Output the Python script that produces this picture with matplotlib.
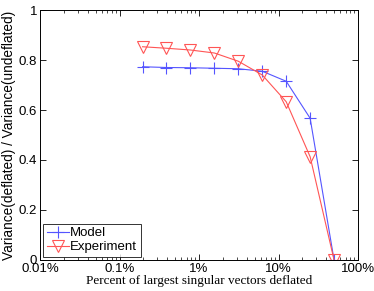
import matplotlib
matplotlib.use('Agg')
import matplotlib.pyplot as plt
import numpy as np

plt.rcParams['font.family'] = ['Liberation Sans', 'DejaVu Sans']

# percent of largest singular vectors deflated
pct = [0.195, 0.39, 0.78, 1.5625, 3.125, 6.25, 12.5, 25, 50]
model = [0.773, 0.770, 0.769, 0.767, 0.765, 0.755, 0.715, 0.567, 0.0]
experiment = [0.853, 0.847, 0.840, 0.828, 0.795, 0.740, 0.633, 0.413, 0.0]

fig = plt.figure(figsize=(3.74, 2.91), dpi=100)
ax = fig.add_axes([40/374, 31/291, 318/374, 250/291])

ax.plot(pct, model, color='#5555ff', lw=0.8, marker='+', ms=8, mew=0.8, label='Model')
ax.plot(pct, experiment, color='#ff5555', lw=0.8, marker='v', ms=8, mew=0.8,
        mfc='none', label='Experiment')

ax.set_xscale('log')
ax.set_xlim(0.01, 100)
ax.set_ylim(0, 1)
ax.set_xticks([0.01, 0.1, 1, 10, 100])
ax.set_xticklabels(['0.01%', '0.1%', '1%', '10%', '100%'])
ax.set_yticks([0, 0.2, 0.4, 0.6, 0.8, 1])
ax.set_yticklabels(['0', '0.2', '0.4', '0.6', '0.8', '1'])
ax.tick_params(which='both', direction='in', top=True, right=True, labelsize=9.5, pad=2)
ax.tick_params(which='major', length=4, width=0.6)
ax.tick_params(which='minor', length=2, width=0.5)
for s in ax.spines.values():
    s.set_linewidth(0.7)

ax.set_xlabel('Percent of largest singular vectors deflated', family='Liberation Serif',
              fontsize=9.5, labelpad=0)
ax.set_ylabel('Variance(deflated) / Variance(undeflated)', fontsize=9.8, labelpad=2)

leg = ax.legend(loc='lower left', fontsize=9.5, fancybox=False, edgecolor='black',
                handlelength=1.7, borderpad=0.25, labelspacing=0.15, handletextpad=0.1,
                borderaxespad=0.25)
leg.get_frame().set_linewidth(0.7)

fig.savefig('out.png', dpi=100)
